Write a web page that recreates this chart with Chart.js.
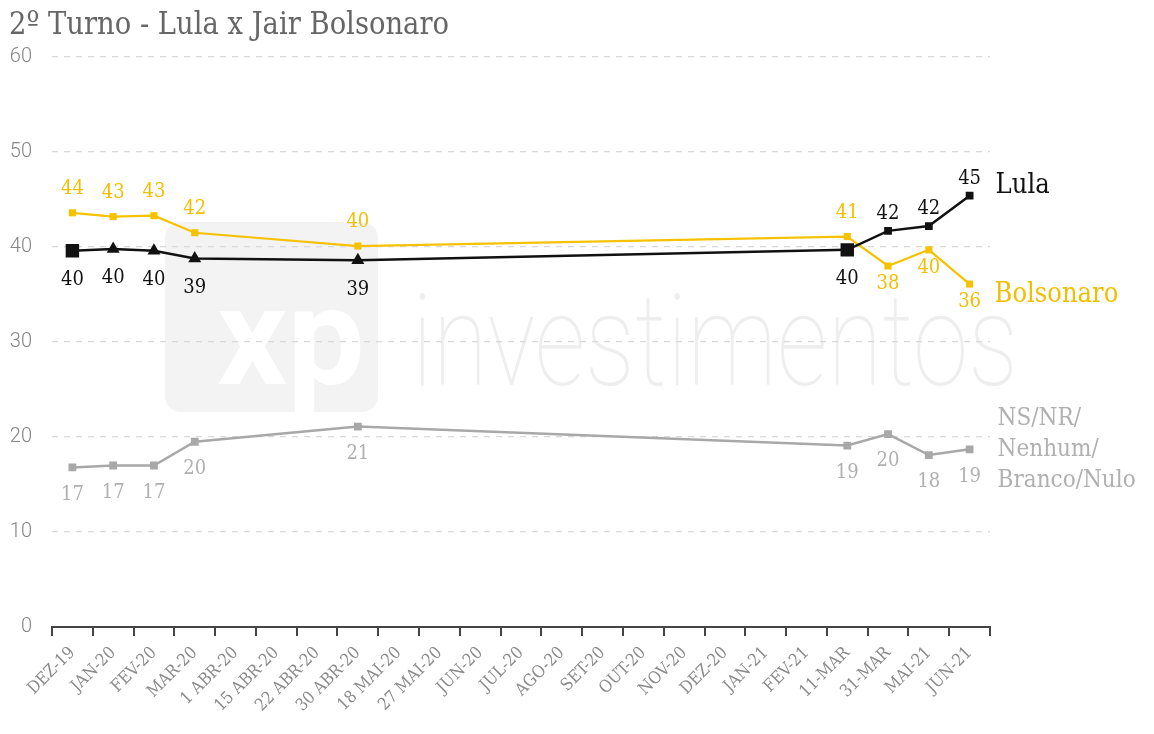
<!DOCTYPE html>
<html>
<head>
<meta charset="utf-8">
<script src="https://cdn.jsdelivr.net/npm/chart.js@4.4.1/dist/chart.umd.min.js"></script>
<style>
  html, body { margin: 0; padding: 0; background: #fff; }
  canvas { display: block; }
</style>
</head>
<body>
<canvas id="turnoChart" width="1154" height="734"></canvas>
<script>
// Data
const categories = ['DEZ-19', 'JAN-20', 'FEV-20', 'MAR-20', '1 ABR-20', '15 ABR-20', '22 ABR-20',
    '30 ABR-20', '18 MAI-20', '27 MAI-20', 'JUN-20', 'JUL-20', 'AGO-20', 'SET-20', 'OUT-20',
    'NOV-20', 'DEZ-20', 'JAN-21', 'FEV-21', '11-MAR', '31-MAR', 'MAI-21', 'JUN-21'];
const surveys = ['DEZ-19', 'JAN-20', 'FEV-20', 'MAR-20', '30 ABR-20', '11-MAR', '31-MAR', 'MAI-21', 'JUN-21'];
const lula = [39.6, 39.8, 39.6, 38.8, 38.6, 39.7, 41.7, 42.2, 45.4];
const bolsonaro = [43.6, 43.2, 43.3, 41.5, 40.1, 41.1, 38.0, 39.7, 36.1];
const outros = [16.8, 17.0, 17.0, 19.5, 21.1, 19.1, 20.3, 18.1, 18.7];
const outrosLabel = ['NS/NR/', 'Nenhum/', 'Branco/Nulo'];
const chartTitle = '2º Turno - Lula x Jair Bolsonaro';

const SERIF = '"DejaVu Serif Condensed", "DejaVu Serif", serif';

function toPoints(values) {
    return surveys.map((x, i) => ({ x: x, y: values[i] }));
}

// faint logo behind the plot + white background
const watermark = {
    id: 'watermark',
    beforeDraw(chart) {
        const ctx = chart.ctx;
        const a = chart.chartArea;
        ctx.save();
        ctx.fillStyle = '#fff';
        ctx.fillRect(0, 0, chart.width, chart.height);

        const rx = a.left + 113, ry = a.top + 165, rw = 213, rh = 190;
        ctx.beginPath();
        ctx.roundRect(rx, ry, rw, rh, 16);
        ctx.fillStyle = '#f3f3f3';
        ctx.fill();
        ctx.clip();
        ctx.fillStyle = '#fff';
        ctx.font = 'bold 138px Roboto, sans-serif';
        ctx.textBaseline = 'alphabetic';
        ctx.fillText('xp', rx + 52, ry + 162, 160);
        ctx.restore();

        ctx.save();
        ctx.fillStyle = '#eeeeee';
        ctx.font = '100 128px Roboto, sans-serif';
        ctx.textBaseline = 'alphabetic';
        ctx.fillText('investimentos', a.left + 360, a.top + 328, 606);
        ctx.restore();
    }
};

// value labels, series names and title
const pointLabels = {
    id: 'pointLabels',
    afterDatasetsDraw(chart) {
        const ctx = chart.ctx;
        const sets = chart.data.datasets;
        ctx.save();
        ctx.textAlign = 'center';
        ctx.textBaseline = 'middle';
        ctx.font = '20px ' + SERIF;
        sets.forEach((ds, i) => {
            const meta = chart.getDatasetMeta(i);
            ctx.fillStyle = ds.textColor;
            meta.data.forEach((pt, j) => {
                const v = ds.data[j].y;
                const others = sets.filter((d, k) => k !== i).map(d => d.data[j].y);
                const above = v > Math.max(...others);
                ctx.fillText(Math.round(v), pt.x, pt.y + (above ? ds.labelAbove : ds.labelBelow));
            });
        });

        // series names at the end of each line
        ctx.textAlign = 'left';
        sets.forEach((ds, i) => {
            const meta = chart.getDatasetMeta(i);
            const last = meta.data[meta.data.length - 1];
            const lines = Array.isArray(ds.label) ? ds.label : [ds.label];
            ctx.fillStyle = ds.textColor;
            ctx.font = ds.endFont + 'px ' + SERIF;
            const lh = 31;
            const y0 = last.y + ds.endDy - (lines.length - 1) * lh / 2;
            lines.forEach((t, n) => ctx.fillText(t, last.x + ds.endDx, y0 + n * lh));
        });
        ctx.restore();
    },
    afterDraw(chart) {
        const ctx = chart.ctx;
        ctx.save();
        ctx.fillStyle = '#666';
        ctx.font = '32px ' + SERIF;
        ctx.textAlign = 'left';
        ctx.textBaseline = 'alphabetic';
        ctx.fillText(chartTitle, 9, 34, 440);
        ctx.restore();
    }
};

const turnoChart = new Chart(document.getElementById('turnoChart').getContext('2d'), {
    type: 'line',
    data: {
        datasets: [
            {
                label: 'Lula',
                data: toPoints(lula),
                borderColor: '#111',
                backgroundColor: '#111',
                textColor: '#111',
                borderWidth: 2.5,
                pointStyle: ['rect', 'triangle', 'triangle', 'triangle', 'triangle', 'rect', 'rect', 'rect', 'rect'],
                pointRadius: [9.5, 7.5, 7.5, 7.5, 7.5, 9.5, 5.5, 5.5, 5.5],
                pointBorderWidth: 0,
                labelAbove: -17,
                labelBelow: 29,
                endDx: 26,
                endDy: -10,
                endFont: 27,
            },
            {
                label: 'Bolsonaro',
                data: toPoints(bolsonaro),
                borderColor: '#f6c200',
                backgroundColor: '#f6c200',
                textColor: '#f2bf00',
                borderWidth: 2.2,
                pointStyle: 'rect',
                pointRadius: 5,
                pointBorderWidth: 0,
                labelAbove: -24,
                labelBelow: 18,
                endDx: 25,
                endDy: 11,
                endFont: 27,
            },
            {
                label: outrosLabel,
                data: toPoints(outros),
                borderColor: '#a8a8a8',
                backgroundColor: '#a8a8a8',
                textColor: '#b0b0b0',
                borderWidth: 2.5,
                pointStyle: 'rect',
                pointRadius: 5.5,
                pointBorderWidth: 0,
                labelAbove: -20,
                labelBelow: 27,
                endDx: 28,
                endDy: 0,
                endFont: 24,
            },
        ],
    },
    options: {
        responsive: false,
        animation: false,
        devicePixelRatio: 1,
        layout: { padding: { top: 57, right: 164, left: 0, bottom: 0 } },
        plugins: {
            legend: { display: false },
            tooltip: { enabled: false },
        },
        scales: {
            x: {
                type: 'category',
                labels: categories,
                offset: true,
                grid: { drawOnChartArea: false, drawTicks: true, tickLength: 9, color: '#444', lineWidth: 2, offset: true },
                border: { display: true, color: '#444', width: 2 },
                ticks: {
                    autoSkip: false,
                    minRotation: 45,
                    maxRotation: 45,
                    padding: 7,
                    color: '#8a8a8a',
                    font: { family: SERIF, size: 17 },
                },
                afterFit: scale => { scale.height = 107; },
            },
            y: {
                min: 0,
                max: 60,
                ticks: { stepSize: 10, padding: 20, color: '#858585', font: { family: 'Roboto', weight: '300', size: 20 } },
                grid: { color: '#d9d9d9', lineWidth: 1.3, drawTicks: false },
                border: { display: false, dash: [6, 6] },
                afterFit: scale => { scale.width = 52; },
            },
        },
    },
    plugins: [watermark, pointLabels],
});
</script>
</body>
</html>
